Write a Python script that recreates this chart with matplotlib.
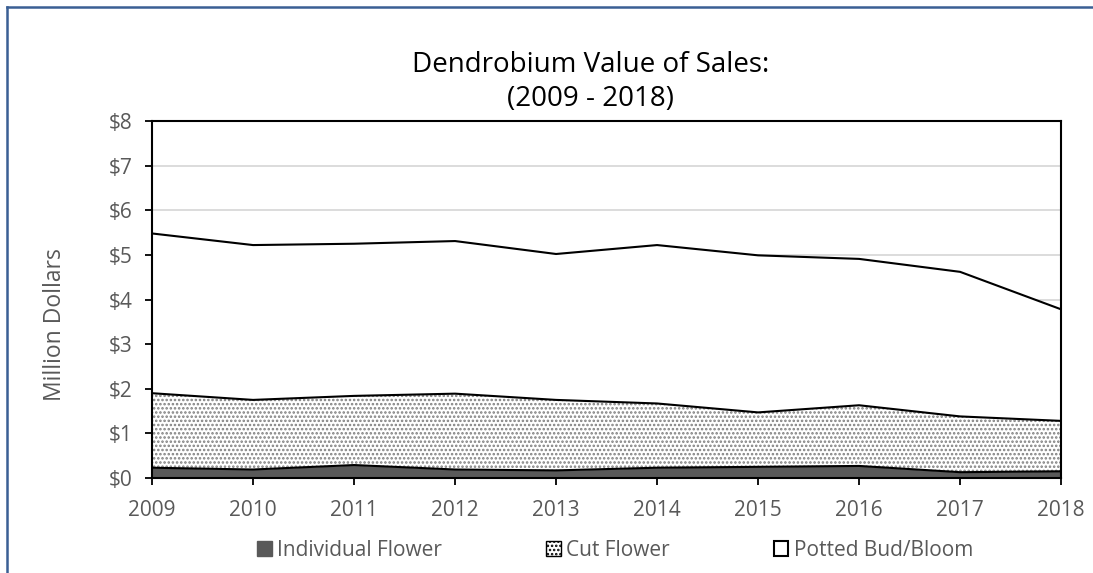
import numpy as np
import matplotlib
matplotlib.use('Agg')
import matplotlib.pyplot as plt
from matplotlib.patches import Patch
from matplotlib.lines import Line2D

plt.rcParams['font.family'] = ['Open Sans', 'DejaVu Sans']
plt.rcParams['hatch.linewidth'] = 1.2

years = [2009, 2010, 2011, 2012, 2013, 2014, 2015, 2016, 2017, 2018]
individual = [0.23, 0.19, 0.29, 0.19, 0.17, 0.23, 0.25, 0.27, 0.13, 0.15]
cut = [1.67, 1.56, 1.55, 1.70, 1.58, 1.44, 1.22, 1.36, 1.25, 1.13]
potted = [3.58, 3.47, 3.41, 3.42, 3.27, 3.55, 3.52, 3.28, 3.24, 2.50]
yticks = [0, 1, 2, 3, 4, 5, 6, 7, 8]

x = np.array(years)
s1 = np.array(individual)
s2 = s1 + np.array(cut)
s3 = s2 + np.array(potted)

GRAY_TXT = '#595959'

fig = plt.figure(figsize=(10.93, 5.73), dpi=100)
ax = fig.add_axes([0.1391, 0.1658, 0.8317, 0.623])

for y in yticks[1:-1]:
    ax.axhline(y, color='#d9d9d9', lw=1.3, zorder=0)

ax.fill_between(x, 0, s1, color='#595959', lw=0, zorder=2)
ax.fill_between(x, s1, s2, facecolor='white', edgecolor='#7f7f7f', hatch='....', lw=0, zorder=2)
ax.fill_between(x, s2, s3, color='white', lw=0, zorder=2)
for s in (s1, s2, s3):
    ax.plot(x, s, color='black', lw=1.5, zorder=3)

ax.set_xlim(2009, 2018)
ax.set_ylim(0, 8)
ax.set_yticks(yticks)
ax.set_yticklabels([f'${v}' for v in yticks], color=GRAY_TXT, fontsize=15)
ax.set_xticks(years)
ax.set_xticklabels([str(v) for v in years], color=GRAY_TXT, fontsize=15)
ax.tick_params(axis='both', direction='out', length=5, width=1.3, color='black')
ax.tick_params(axis='y', pad=9)
ax.tick_params(axis='x', pad=11)
for sp in ax.spines.values():
    sp.set_linewidth(1.5)
    sp.set_color('black')
    sp.set_zorder(5)

fig.text(0.0503, 0.433, 'Million Dollars', rotation=90, ha='center', va='center',
         color=GRAY_TXT, fontsize=16.5)
fig.text(0.540, 0.857, 'Dendrobium Value of Sales:\n(2009 - 2018)', ha='center', va='center',
         fontsize=20, color='black', linespacing=1.3)

handles = [
    Patch(facecolor='#595959', edgecolor='#595959', label='Individual Flower'),
    Patch(facecolor='white', edgecolor='black', hatch='....', label='Cut Flower'),
    Patch(facecolor='white', edgecolor='black', lw=1.5, label='Potted Bud/Bloom'),
]
leg = fig.legend(handles=handles, loc='center', bbox_to_anchor=(0.5627, 0.040), ncol=3,
                 frameon=False, fontsize=15, handlelength=0.7, handleheight=0.7,
                 handletextpad=0.25, columnspacing=5.0, borderaxespad=0, borderpad=0)
for t in leg.get_texts():
    t.set_color(GRAY_TXT)

# chart frame (left and top edges visible)
fig.add_artist(Line2D([0.0064, 0.0064], [0.0, 0.988], color='#3a5f94', lw=1.8))
fig.add_artist(Line2D([0.0064, 1.0], [0.988, 0.988], color='#3a5f94', lw=1.8))

fig.savefig('out.png', dpi=100, facecolor='white')
